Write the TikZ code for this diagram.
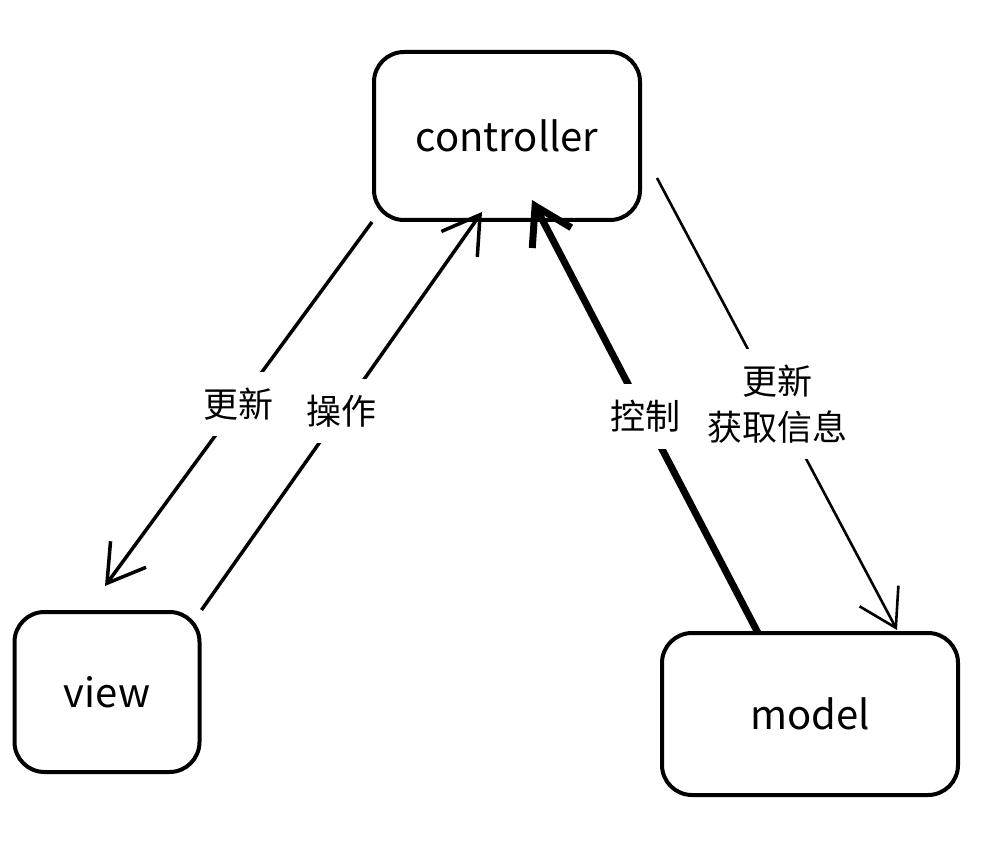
\documentclass[tikz,border=0pt]{standalone}
\usepackage{fontspec}
\setmainfont{Noto Sans CJK SC}
\usetikzlibrary{arrows.meta,positioning,calc}
\tikzset{
  box/.style={draw,line width=4pt,rounded corners=30pt,inner sep=0pt,font=\fontsize{40}{48}\selectfont},
  arr/.style={line width=3.5pt,-{Straight Barb[length=36pt,width=44pt]}},
  lbl/.style={fill=white,inner sep=16pt,font=\fontsize{35}{46}\selectfont,align=center},
}

\begin{document}
\begin{tikzpicture}[x=1pt,y=-1pt]
  \useasboundingbox (0,0) rectangle (1002,850); % 画面の大きさ
  \node[box,minimum width=266pt,minimum height=168pt] (ctrl) at (507,136) {controller}; % 上の箱
  \node[box,minimum width=185pt,minimum height=160pt] (view) at (107,692) {view}; % 左下の箱
  \node[box,minimum width=296pt,minimum height=162pt] (model) at (810,714) {model}; % 右下の箱
  \draw[arr] (ctrl.south west) -- ($(view.north)+(-2,-24)$)
    node[lbl,midway] (upd1) {更新}; % controller から view へ
  \draw[arr] (view.north east) -- ($(ctrl.south)+(-25,-10)$)
    node[lbl,midway] (op) {操作}; % view から controller へ
  \draw[arr,line width=7pt] ($(model.north west)+(98,2)$) -- ($(ctrl.south)+(25,-22)$)
    node[lbl,midway] (ctl) {控制}; % model から controller へ（太線）
  \draw[arr,line width=2.6pt] ($(ctrl.east)+(15,42)$) -- ($(model.north east)+(-63,-1)$)
    node[lbl,midway] (upd2) {更新\\获取信息}; % controller から model へ
\end{tikzpicture}
\end{document}
